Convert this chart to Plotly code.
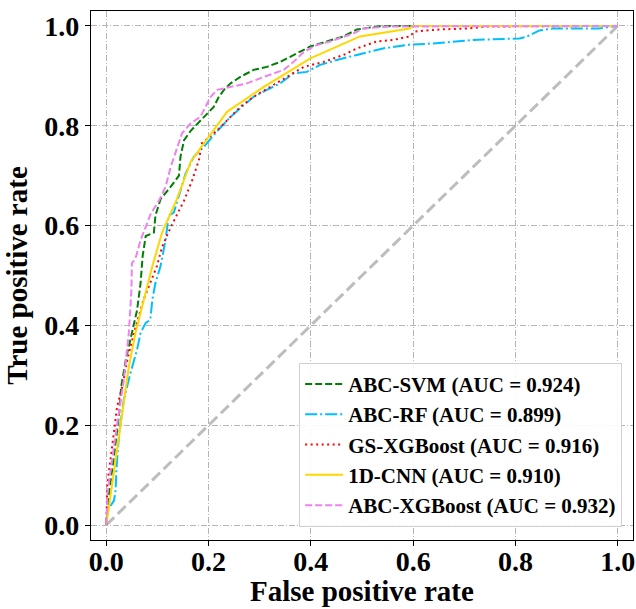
import plotly.graph_objects as go

# ---- data ----
svm_fpr = [0, 0.005, 0.014, 0.025, 0.029, 0.038, 0.05, 0.06, 0.067, 0.071, 0.077, 0.093, 0.096, 0.106,
           0.126, 0.142, 0.145, 0.152, 0.165, 0.191, 0.21, 0.22, 0.23, 0.243, 0.262, 0.288, 0.314, 0.34,
           0.366, 0.399, 0.431, 0.464, 0.49, 0.529, 0.56, 1.0]
svm_tpr = [0, 0.062, 0.13, 0.223, 0.277, 0.331, 0.385, 0.43, 0.485, 0.539, 0.579, 0.586, 0.62, 0.653,
           0.678, 0.70, 0.738, 0.771, 0.79, 0.818, 0.838, 0.858, 0.872, 0.885, 0.898, 0.912, 0.918, 0.928,
           0.942, 0.959, 0.969, 0.979, 0.993, 0.999, 1.0, 1.0]

rf_fpr = [0, 0.002, 0.015, 0.018, 0.02, 0.025, 0.034, 0.047, 0.06, 0.067, 0.077, 0.086, 0.09, 0.096,
          0.106, 0.116, 0.122, 0.132, 0.139, 0.155, 0.171, 0.191, 0.213, 0.243, 0.265, 0.288, 0.314,
          0.34, 0.366, 0.392, 0.418, 0.451, 0.49, 0.541, 0.587, 0.639, 0.717, 0.808, 0.821, 0.847,
          0.872, 0.963, 1.0]
rf_tpr = [0, 0.029, 0.049, 0.069, 0.116, 0.183, 0.25, 0.304, 0.351, 0.385, 0.405, 0.411, 0.452, 0.485,
          0.519, 0.572, 0.62, 0.626, 0.65, 0.704, 0.738, 0.758, 0.785, 0.818, 0.838, 0.858, 0.872,
          0.885, 0.905, 0.908, 0.922, 0.932, 0.942, 0.955, 0.962, 0.965, 0.972, 0.975, 0.978, 0.991,
          0.995, 0.995, 1.0]

gs_fpr = [0, 0.002, 0.008, 0.014, 0.021, 0.031, 0.041, 0.054, 0.073, 0.099, 0.109, 0.126, 0.152,
          0.168, 0.181, 0.187, 0.217, 0.243, 0.262, 0.288, 0.321, 0.353, 0.386, 0.425, 0.464, 0.49,
          0.529, 0.561, 0.593, 0.603, 0.652, 0.71, 0.743, 1.0]
gs_tpr = [0, 0.083, 0.13, 0.183, 0.237, 0.277, 0.331, 0.385, 0.452, 0.519, 0.557, 0.597, 0.65,
          0.691, 0.731, 0.765, 0.791, 0.818, 0.838, 0.858, 0.878, 0.898, 0.918, 0.928, 0.942, 0.955,
          0.969, 0.972, 0.979, 0.989, 0.993, 0.995, 0.999, 1.0]

cnn_fpr = [0, 0.007, 0.025, 0.044, 0.057, 0.073, 0.09, 0.109, 0.138, 0.165, 0.236, 0.308, 0.399,
           0.496, 0.593, 0.60, 1.0]
cnn_tpr = [0, 0.049, 0.183, 0.317, 0.385, 0.452, 0.519, 0.586, 0.653, 0.728, 0.828, 0.878, 0.935,
           0.979, 0.995, 1.0, 1.0]

xgb_fpr = [0, 0.002, 0.018, 0.034, 0.044, 0.049, 0.05, 0.057, 0.067, 0.087, 0.103, 0.116, 0.126,
           0.135, 0.148, 0.165, 0.184, 0.194, 0.204, 0.217, 0.243, 0.275, 0.308, 0.347, 0.366,
           0.386, 0.412, 0.438, 0.483, 0.503, 0.555, 1.0]
xgb_tpr = [0, 0.062, 0.18, 0.29, 0.385, 0.47, 0.525, 0.534, 0.571, 0.624, 0.65, 0.678, 0.718,
           0.745, 0.785, 0.805, 0.818, 0.838, 0.858, 0.872, 0.878, 0.885, 0.898, 0.912, 0.928,
           0.948, 0.962, 0.969, 0.985, 0.995, 0.999, 1.0]

names = ["ABC-SVM (AUC = 0.924)", "ABC-RF (AUC = 0.899)", "GS-XGBoost (AUC = 0.916)",
         "1D-CNN (AUC = 0.910)", "ABC-XGBoost (AUC = 0.932)"]
ticks = [0.0, 0.2, 0.4, 0.6, 0.8, 1.0]
tick_text = ["0.0", "0.2", "0.4", "0.6", "0.8", "1.0"]
diag = [0, 1]
x_title = "False positive rate"
y_title = "True positive rate"

FONT = "Liberation Serif"

fig = go.Figure()
fig.add_trace(go.Scatter(x=diag, y=diag, mode="lines", showlegend=False,
                         line=dict(color="#bdbdbd", width=3, dash="11px,5px")))

series = [
    (svm_fpr, svm_tpr, "#008000", "7px,3px"),
    (rf_fpr, rf_tpr, "#00BFFF", "12px,3px,2px,3px"),
    (gs_fpr, gs_tpr, "#FF0000", "2px,3.5px"),
    (cnn_fpr, cnn_tpr, "#FFD700", "solid"),
    (xgb_fpr, xgb_tpr, "#EE82EE", "7px,3px"),
]
for (fx, ty, col, dash), nm in zip(series, names):
    fig.add_trace(go.Scatter(x=fx, y=ty, mode="lines", name=nm,
                             line=dict(color=col, width=2, dash=dash)))

axis_common = dict(
    range=[-0.03, 1.03], tickvals=ticks, ticktext=tick_text, automargin=False,
    showgrid=True, gridcolor="#b5b5b5", gridwidth=1, griddash="6px,2px,1px,2px",
    zeroline=False, showline=True, linecolor="black", linewidth=1.3, mirror=True,
    ticks="outside", ticklen=5, tickwidth=1.2, tickcolor="black",
    tickfont=dict(family=FONT, size=28, color="black", weight="bold"),
)
fig.update_xaxes(**axis_common, ticklabelstandoff=-9)
fig.update_yaxes(**axis_common,
                 title=dict(text="<b>" + y_title + "</b>", standoff=8,
                            font=dict(family=FONT, size=29, color="black")))

fig.add_annotation(text="<b>" + x_title + "</b>", xref="paper", yref="paper",
                   x=0.5, y=-0.097, xanchor="center", yanchor="middle", showarrow=False,
                   font=dict(family=FONT, size=29, color="black"))

fig.update_layout(
    width=636, height=609,
    margin=dict(l=91, r=3, t=11, b=69),
    paper_bgcolor="white", plot_bgcolor="white",
    legend=dict(x=0.98, y=0.025, xanchor="right", yanchor="bottom",
                bgcolor="rgba(255,255,255,0.9)", bordercolor="#d0d0d0", borderwidth=1,
                font=dict(family=FONT, size=21, color="black", weight="bold"),
                itemwidth=38),
)

fig.write_html("out.html")
